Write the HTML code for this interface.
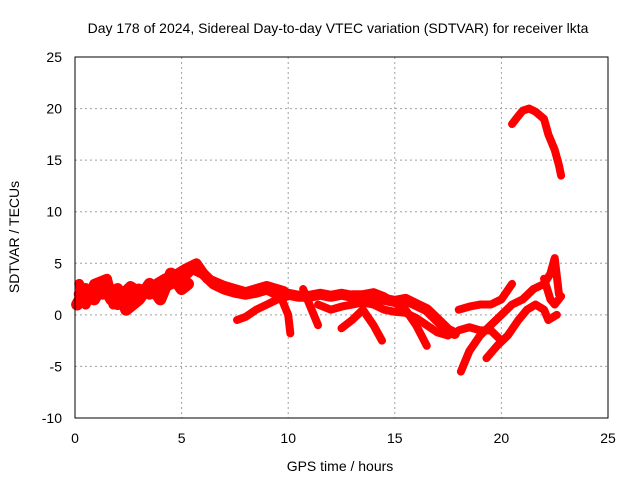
<!DOCTYPE html>
<html><head><meta charset="utf-8"><style>
body{margin:0;background:#fff}
svg text{font-family:"Liberation Sans",sans-serif;font-size:14px;fill:#000}
</style></head><body>
<svg id="chart" width="640" height="480">
<text x="338" y="33" text-anchor="middle">Day 178 of 2024, Sidereal Day-to-day VTEC variation (SDTVAR) for receiver lkta</text>
<text x="340" y="471" text-anchor="middle">GPS time / hours</text>
<text transform="translate(19,237) rotate(-90)" text-anchor="middle">SDTVAR / TECUs</text>
<g id="grid"></g><g id="marks"></g>
<rect x="75" y="57" width="533" height="361" fill="none" stroke="#000" stroke-width="1"/>
</svg>
<script>
const xTicks=[0,5,10,15,20,25];
const yTicks=[-10,-5,0,5,10,15,20,25];
const trackA=[[0.2,2],[0.5,1.5],[0.9,2.5],[1.3,2],[1.7,2.5],[2.0,1],[2.4,1.5],[3.0,2.5],[3.5,2],[4,2.5],[4.5,3],[5,3.5],[5.5,4.5],[6,4],[6.5,3],[7,2.5],[7.5,2.2],[8,2],[8.5,2.2],[9,2.5],[9.5,2],[10,2],[10.5,1.8],[11,1.8],[11.5,2],[12,1.8],[12.5,2],[13,1.8],[13.5,1.5],[14,1.5],[14.5,1.5],[15,1.3],[15.5,1.5],[16,1],[16.5,0.5],[17,-0.5],[17.5,-1.5],[17.8,-1.8]];
const trackA2=[[0.1,1],[0.5,2.5],[0.9,1.5],[1.3,3],[1.7,1.5],[2.0,2.5],[2.4,0.5],[3.0,1.5],[3.5,3],[4,1.5],[4.5,4],[5,2.5],[5.3,3]];
const trackA3=[[0.2,3],[0.5,1],[0.9,3],[1.5,3.5],[1.8,1],[2.2,2],[2.6,2.8],[3.2,2],[3.8,3],[4.2,3.5],[4.8,4],[5.2,4.5],[5.7,5],[6.2,3.5],[7,2.8],[8,2.2],[9,2.8],[9.8,2.3]];
const trackB=[[7.6,-0.5],[8,-0.2],[8.5,0.5],[9,1],[9.5,1.5],[10,1.8]];
const trackC=[[9.6,2],[10,0],[10.1,-1.8]];
const trackD=[[10.7,2.5],[11,1],[11.4,-1]];
const trackE=[[11.4,1],[12,0.5],[12.5,0.8],[13,1],[13.5,1.2],[14,1],[14.5,0.5],[15,0.3],[15.5,0.2],[16,-0.3],[16.5,-1],[17,-1.7],[17.5,-2]];
const trackF=[[12.5,-1.3],[13,-0.5],[13.5,0.5],[14,-1],[14.4,-2.5]];
const trackG=[[13,2],[13.5,2],[14,2.2],[14.5,1.8],[15,1.2],[15.5,0.5],[16,-1],[16.5,-3]];
const trackI=[[18,0.5],[18.5,0.8],[19,1],[19.5,1],[20,1.5],[20.5,3]];
const trackJ=[[18,-1.5],[18.5,-1.2],[19,-1.5],[19.5,-1.5],[20,-2.5]];
const trackK=[[18.1,-5.5],[18.5,-3.5],[19,-2],[19.5,-1],[20,0],[20.5,1],[21,1.5],[21.5,2.5]];
const trackL=[[19.3,-4.2],[19.8,-3],[20.3,-2],[20.8,-0.5],[21.2,0.5],[21.6,1],[22,0.5],[22.2,-0.5],[22.6,0]];
const trackM=[[21,1.5],[21.5,2.5],[22,3],[22.3,4],[22.5,5.5],[22.7,2]];
const trackN=[[22,3.5],[22.3,1.5],[22.5,1],[22.8,1.8]];
const trackTop=[[20.5,18.5],[20.8,19.3],[21,19.8],[21.3,20],[21.6,19.7],[22,19],[22.2,17.5],[22.5,16],[22.7,14.5],[22.8,13.5]];
const tracks=[[trackA,11],[trackA2,12],[trackA3,10],[trackB,8],[trackC,8],[trackD,8],[trackE,8],[trackF,8],[trackG,8],[trackI,8],[trackJ,8],[trackK,8],[trackL,8],[trackM,8],[trackN,8],[trackTop,8]];
const NS="http://www.w3.org/2000/svg";
const X=h=>75+h*533/25, Y=v=>57+(25-v)*361/35;
const grid=document.getElementById('grid'), marks=document.getElementById('marks');
xTicks.forEach(t=>{
 if(t>0&&t<25){const l=document.createElementNS(NS,'line');l.setAttribute('x1',X(t));l.setAttribute('x2',X(t));l.setAttribute('y1',57);l.setAttribute('y2',418);l.setAttribute('stroke','#a0a0a0');l.setAttribute('stroke-dasharray','2,3');
 
 grid.appendChild(l);}
 const tx=document.createElementNS(NS,'text');tx.setAttribute('x',X(t));tx.setAttribute('y',443);tx.setAttribute('text-anchor','middle');tx.textContent=t;
 
 grid.appendChild(tx);
});
yTicks.forEach(t=>{
 if(t>-10&&t<25){const l=document.createElementNS(NS,'line');l.setAttribute('x1',75);l.setAttribute('x2',608);l.setAttribute('y1',Y(t));l.setAttribute('y2',Y(t));l.setAttribute('stroke','#a0a0a0');l.setAttribute('stroke-dasharray','2,3');
 
 grid.appendChild(l);}
 const tx=document.createElementNS(NS,'text');tx.setAttribute('x',62);tx.setAttribute('y',Y(t)+5);tx.setAttribute('text-anchor','end');tx.textContent=t;
 
 grid.appendChild(tx);
});
tracks.forEach(([pts,w])=>{
 const p=document.createElementNS(NS,'polyline');
 p.setAttribute('points',pts.map(q=>X(q[0])+','+Y(q[1])).join(' '));
 p.setAttribute('fill','none');p.setAttribute('stroke','#ff0000');p.setAttribute('stroke-width',w);p.setAttribute('stroke-linejoin','round');p.setAttribute('stroke-linecap','round');
 
 
 marks.appendChild(p);
});
</script>
</body></html>
